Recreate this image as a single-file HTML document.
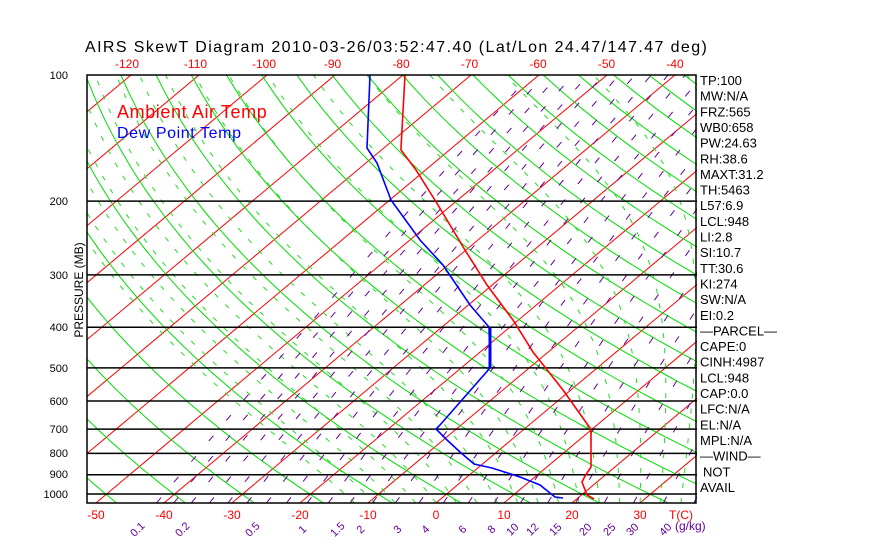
<!DOCTYPE html>
<html><head><meta charset="utf-8"><style>
html,body{margin:0;padding:0;background:#fff;overflow:hidden;}
svg{display:block;font-family:"Liberation Sans",sans-serif;}
</style></head><body>
<svg id="s" width="870" height="560" xmlns="http://www.w3.org/2000/svg">
<defs><clipPath id="c"><rect x="87" y="75" width="610" height="428"/></clipPath></defs>
<rect width="870" height="560" fill="#fff"/>
<g id="g" clip-path="url(#c)"></g>
<g id="h"></g>
<text x="85" y="52" font-size="16" letter-spacing="1.4" fill="#000">AIRS SkewT Diagram 2010-03-26/03:52:47.40 (Lat/Lon 24.47/147.47 deg)</text>
<text x="117" y="118" font-size="18" letter-spacing="0.6" fill="#f00">Ambient Air Temp</text>
<text x="117" y="138" font-size="16" letter-spacing="0.6" fill="#00f">Dew Point Temp</text>
<text transform="translate(83,290) rotate(-90)" font-size="12" text-anchor="middle" fill="#000">PRESSURE (MB)</text>
<g id="lab" font-size="13" fill="#000"></g>
<rect x="87" y="75" width="609" height="428" fill="none" stroke="#000" stroke-width="1.5"/>
</svg>
<script>
var NS="http://www.w3.org/2000/svg";
var g=document.getElementById('g'),h=document.getElementById('h'),lab=document.getElementById('lab');
function Y(p){return 494+419*Math.log10(p/1000);}
function X(T,p){return 436+6.8*T+(503-Y(p))*1.194;}
function el(par,t,a,txt){var e=document.createElementNS(NS,t);for(var k in a)e.setAttribute(k,a[k]);if(txt!==undefined)e.textContent=txt;par.appendChild(e);return e;}
function pl(par,pts,st,w,da){var d=pts.map(function(q,i){return (i?'L':'M')+q[0].toFixed(1)+' '+q[1].toFixed(1);}).join('');var a={d:d,fill:'none',stroke:st,'stroke-width':w};if(da)a['stroke-dasharray']=da;el(par,'path',a);}
for(var T=-160;T<=50;T+=10){pl(g,[[X(T,1100),Y(1100)],[X(T,90),Y(90)]],'#f00',1);}
for(var th=203;th<=493;th+=10){var pts=[];for(var p=1100;p>=90;p-=10){var Tk=th*Math.pow(p/1000,0.286);pts.push([X(Tk-273.15,p),Y(p)]);}pl(g,pts,'#00dd00',1);}
function es(T){return 6.112*Math.exp(17.67*T/(T+243.5));}
for(var T0=-12;T0<=46;T0+=3){var T=T0,pts=[];for(var p=1050;p>=90;p-=5){pts.push([X(T,p),Y(p)]);var Tk=T+273.15,rs=0.622*es(T)/(p-es(T));if(rs<0)rs=0;var dTdp=(287*Tk+2.5e6*rs)/(p*(1004+2.5e6*2.5e6*rs*0.622/(287*Tk*Tk)));T-=dTdp*5;}pl(g,pts,'#22dd22',1,'5,10');}
var ws=[0.1,0.2,0.5,1,1.5,2,3,4,6,8,10,12,15,20,25,30,40];
var wl=[];for(var k=0;k<24;k++)wl.push(0.1*Math.pow(1.3,k));
wl.forEach(function(w){var pts=[];for(var p=1050;p>=100;p-=10){var e=w*p/(622+w);var l=Math.log(e/6.112);var Td=243.5*l/(17.67-l);pts.push([X(Td,p),Y(p)]);}pl(g,pts,'#660099',1,'7,20');});
[200,300,400,500,600,700,800,900,1000].forEach(function(p){pl(h,[[87,Y(p)],[697,Y(p)]],'#000',1.5);});
[[100,75],[200,201],[300,275],[400,327],[500,368],[600,401],[700,429],[800,453],[900,474],[1000,494]].forEach(function(a){el(h,'text',{x:68,y:a[1]+4,'font-size':11,'text-anchor':'end',fill:'#000'},String(a[0]));});
var tp=[[405,75],[401,148],[401,150],[416,170],[438,205],[465,250],[487,285],[513,320],[533,352],[563,390],[590,428],[591,432],[591,467],[585,476],[582,482],[587,495],[594,499]];
pl(h,tp,'#f00',1.6);
var dp=[[370,75],[367,148],[377,163],[391,200],[420,240],[443,265],[470,305],[489,327],[490,368],[440,425],[436,429],[447,440],[460,452],[474,464],[492,468],[520,477],[540,485],[555,497],[563,498]];
pl(h,dp,'#00f',1.6);
pl(h,[[490,328],[490,368]],'#00f',3);
[-50,-40,-30,-20,-10,0,10,20,30].forEach(function(t,i){el(h,'text',{x:436+6.8*t,y:519,'font-size':12,'text-anchor':'middle',fill:'#f00'},String(t));});
el(h,'text',{x:681,y:519,'font-size':12,'text-anchor':'middle',fill:'#f00'},'T(C)');
[-120,-110,-100,-90,-80,-70,-60,-50,-40].forEach(function(t,i){el(h,'text',{x:127+68.5*i,y:68,'font-size':12,'text-anchor':'middle',fill:'#f00'},String(t));});
var wx=[140,185,255,305,340,363,400,428,465,494,515,535,558,588,612,635,668];
ws.forEach(function(w,i){el(h,'text',{transform:'translate('+wx[i]+',532) rotate(-45)','font-size':11,'text-anchor':'middle',fill:'#660099'},String(w));});
el(h,'text',{x:675,y:530,'font-size':12,fill:'#660099'},'(g/kg)');
var R=['TP:100','MW:N/A','FRZ:565','WB0:658','PW:24.63','RH:38.6','MAXT:31.2','TH:5463','L57:6.9','LCL:948','LI:2.8','SI:10.7','TT:30.6','KI:274','SW:N/A','EI:0.2','\u2014PARCEL\u2014','CAPE:0','CINH:4987','LCL:948','CAP:0.0','LFC:N/A','EL:N/A','MPL:N/A','\u2014WIND\u2014','NOT','AVAIL'];
R.forEach(function(s,i){el(lab,'text',{x:(s=='NOT'?703:700),y:85+15.65*i},s);});
</script>
</body></html>
